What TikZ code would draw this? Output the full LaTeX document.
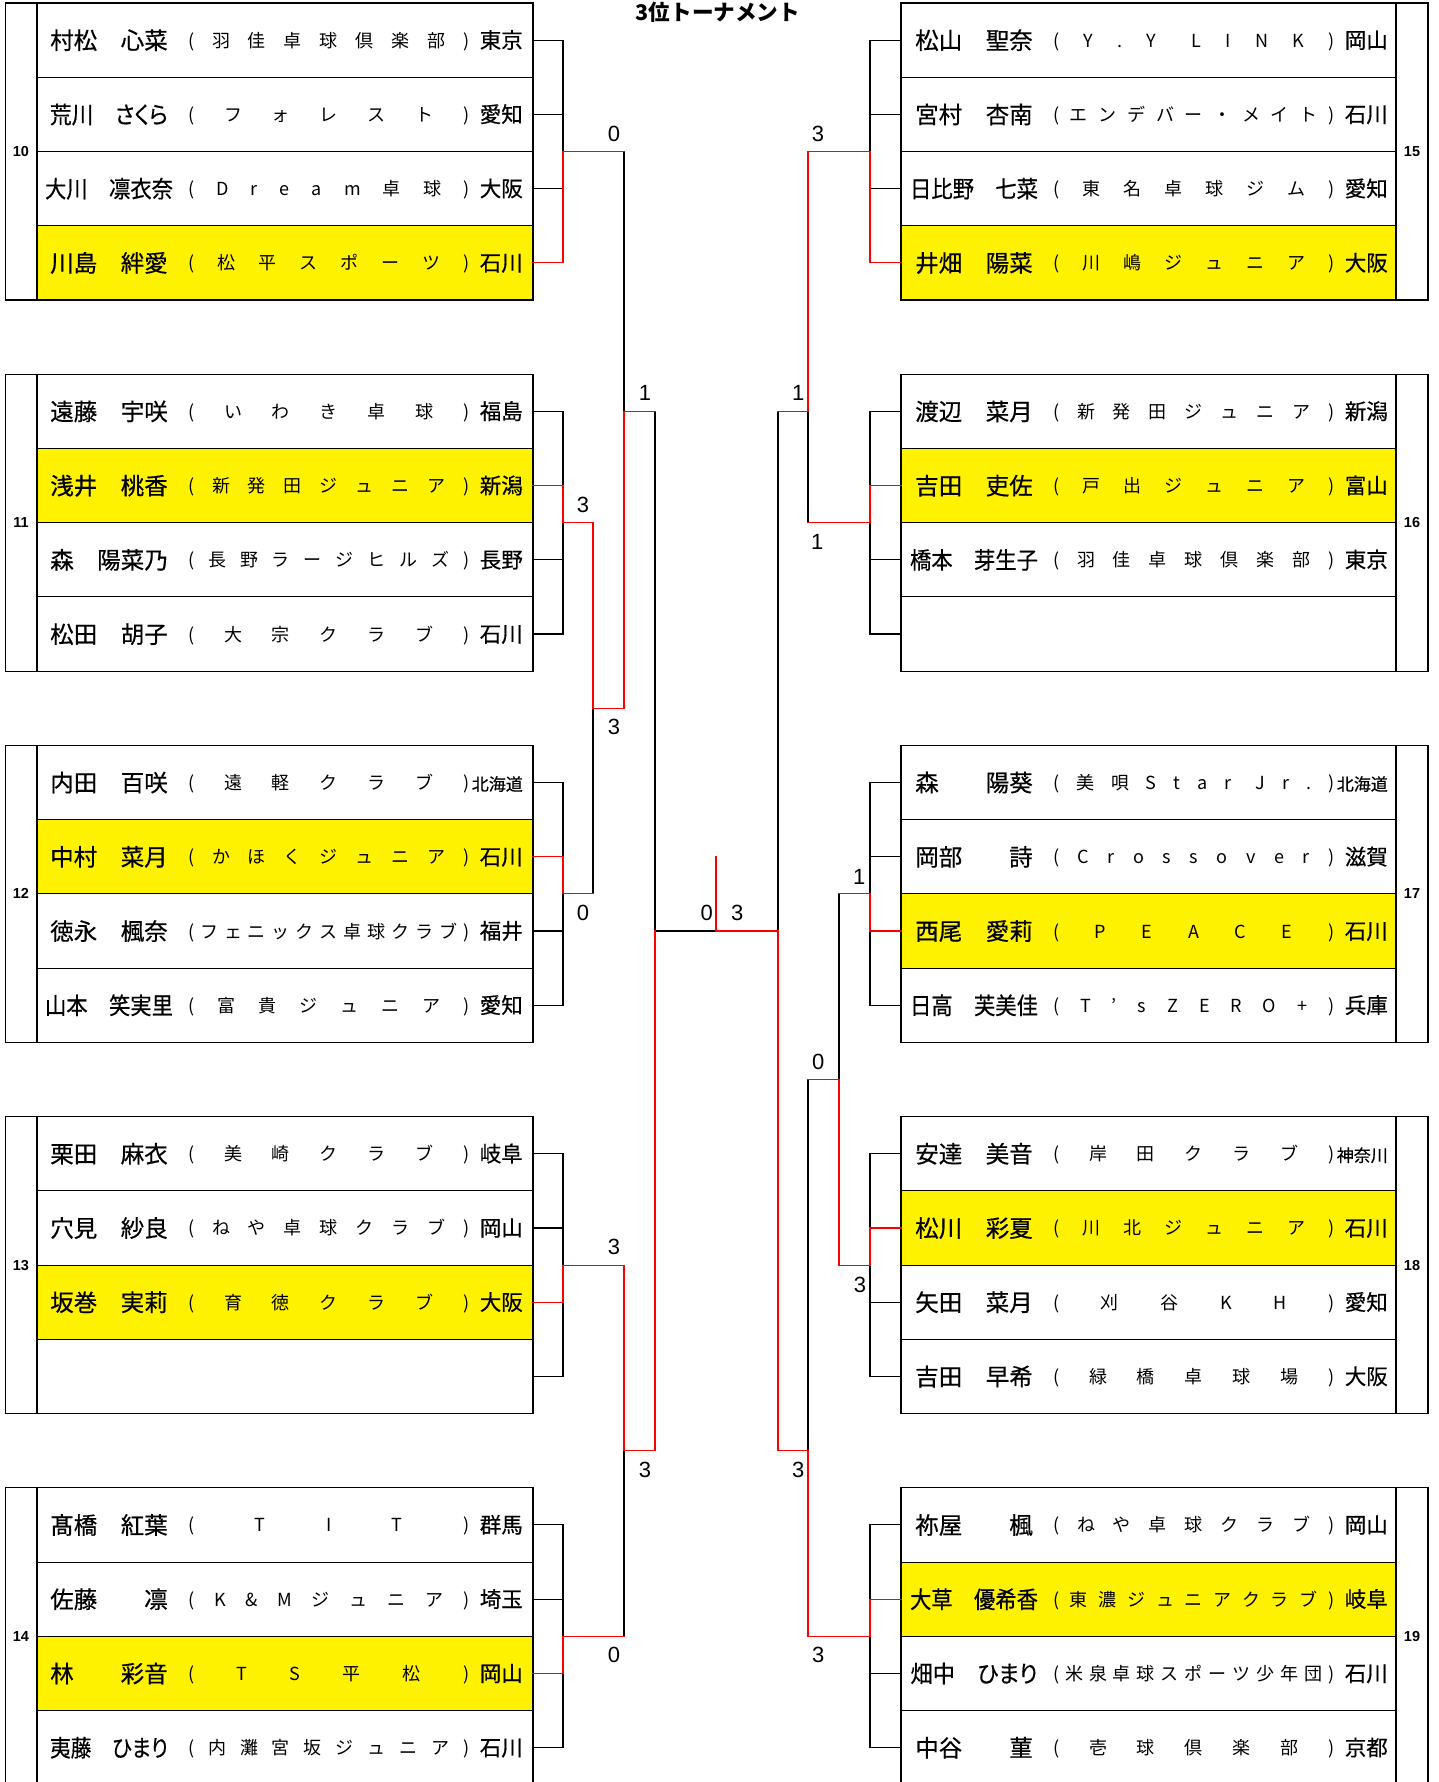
\documentclass[tikz,border=0pt]{standalone}
\usepackage{fontspec}
\usepackage{graphicx}
\setmainfont{Liberation Sans}
\newfontfamily\jp{Noto Sans CJK JP}
\newfontfamily\jpn[RawFeature={embolden=0.5}]{Noto Sans CJK JP}
\newfontfamily\jpk[RawFeature={+palt;embolden=0.5}]{Noto Sans CJK JP}
\newsavebox\nmbox
\newsavebox\pfbox
\newcommand\nm[2]{\sbox\nmbox{\jpk\fontsize{23.5}{23.5}\selectfont #2}\ifdim\wd\nmbox>#1pt\resizebox{#1pt}{\ht\nmbox}{\usebox\nmbox}\else\usebox\nmbox\fi}
\def\spreadit#1{\ifx\relax#1\else\hfill#1\expandafter\spreadit\fi}
\newcommand\club[1]{\hbox to 281pt{\jp\fontsize{18}{18}\selectfont(\spreadit#1\relax\hfill)}}
\newcommand\pf[1]{\sbox\pfbox{\jpn\fontsize{21.5}{22}\selectfont #1}\ifdim\wd\pfbox>46pt{\jpn\fontsize{17}{17}\selectfont #1}\else\usebox\pfbox\fi}
\tikzset{
  ln/.style={line width=1.1pt, black, line cap=rect},
  rd/.style={line width=1.1pt, red, line cap=rect, line join=miter},
  sc/.style={font=\fontsize{22}{22}\selectfont, inner sep=0pt},
  num/.style={font=\bfseries\fontsize{14.5}{15}\selectfont, inner sep=0pt},
}
\newcommand\prow[7]{%
  \node[anchor=base,inner sep=0pt] (#1n) at ({#2+109},{rc(#3)+9}) {\nm{#4}{#5}};
  \node[anchor=base west,inner sep=0pt] (#1c) at ({#2+188},{rc(#3)+7}) {\club{#6}};
  \node[anchor=base east,inner sep=0pt] (#1p) at ({#2+523},{rc(#3)+8}) {\pf{#7}};}
\newcommand\lblock[3]{%
  \fill[yellow] (37,{rb(#1+#2-1)}) rectangle (533,{rb(#1+#2)});
  \draw[ln] (5.5,{rb(#1)}) rectangle (533,{rb(#1+4)});
  \draw[ln] (37,{rb(#1)}) -- (37,{rb(#1+4)});
  \foreach \i in {1,2,3} {\draw[ln] (37,{rb(#1+\i)}) -- (533,{rb(#1+\i)});}
  \foreach \i in {0,1,2,3} {\draw[ln] (533,{rc(#1+\i)}) -- (563,{rc(#1+\i)});}
  \draw[ln] (563,{rc(#1)}) -- (563,{rc(#1+3)});
  \node[num] (nb#3) at (21,{rb(#1+2)}) {#3};}
\newcommand\rblock[3]{%
  \fill[yellow] (901,{rb(#1+#2-1)}) rectangle (1396,{rb(#1+#2)});
  \draw[ln] (901,{rb(#1)}) rectangle (1428,{rb(#1+4)});
  \draw[ln] (1396,{rb(#1)}) -- (1396,{rb(#1+4)});
  \foreach \i in {1,2,3} {\draw[ln] (901,{rb(#1+\i)}) -- (1396,{rb(#1+\i)});}
  \foreach \i in {0,1,2,3} {\draw[ln] (870,{rc(#1+\i)}) -- (901,{rc(#1+\i)});}
  \draw[ln] (870,{rc(#1)}) -- (870,{rc(#1+3)});
  \node[num] (nb#3) at (1412,{rb(#1+2)}) {#3};}
\begin{document}
\begin{tikzpicture}[x=1pt,y=-1pt,
  declare function={rc(\k)=3+(\k+0.5)*74.24; rb(\k)=3+\k*74.24;}]
\useasboundingbox (0,0) rectangle (1438,1782);
\clip (0,0) rectangle (1438,1782);
\fill[white] (0,0) rectangle (1438,1782);
% title
\node[inner sep=0pt] (title) at (718,12.5) {\jp\bfseries\fontsize{21.6}{22}\selectfont 3位トーナメント};
% blocks
\lblock{0}{4}{10}
\lblock{5}{2}{11}
\lblock{10}{2}{12}
\lblock{15}{3}{13}
\lblock{20}{3}{14}
\rblock{0}{4}{15}
\rblock{5}{2}{16}
\rblock{10}{3}{17}
\rblock{15}{2}{18}
\rblock{20}{2}{19}
% black bracket lines
\draw[ln] (593,{rb(7)}) -- (593,{rb(12)});
\draw[ln] (624,{rb(2)}) -- (624,{rc(9)});
\draw[ln] (624,{rb(17)}) -- (624,{rb(22)});
\draw[ln] (655,{rc(5)}) -- (655,{rc(19)});
\draw[ln] (655,{rc(12)}) -- (716,{rc(12)});
\draw[ln] (778,{rc(5)}) -- (778,{rc(19)});
\draw[ln] (808,{rb(2)}) -- (808,{rb(7)});
\draw[ln] (839,{rb(12)}) -- (839,{rb(17)});
\draw[ln] (808,{rc(14)}) -- (808,{rb(22)});
% red winner paths
\draw[rd] (533,{rc(3)}) -- (563,{rc(3)}) -- (563,{rb(2)}) -- (624,{rb(2)});
\draw[rd] (533,{rc(6)}) -- (563,{rc(6)}) -- (563,{rb(7)}) -- (593,{rb(7)}) -- (593,{rc(9)}) -- (624,{rc(9)}) -- (624,{rc(5)}) -- (655,{rc(5)});
\draw[rd] (533,{rc(11)}) -- (563,{rc(11)}) -- (563,{rb(12)}) -- (593,{rb(12)});
\draw[rd] (533,{rc(17)}) -- (563,{rc(17)}) -- (563,{rb(17)}) -- (624,{rb(17)}) -- (624,{rc(19)}) -- (655,{rc(19)}) -- (655,{rc(12)});
\draw[rd] (533,{rc(22)}) -- (563,{rc(22)}) -- (563,{rb(22)}) -- (624,{rb(22)});
\draw[rd] (716,{rc(11)}) -- (716,{rc(12)}) -- (778,{rc(12)});
\draw[rd] (901,{rc(3)}) -- (870,{rc(3)}) -- (870,{rb(2)}) -- (808,{rb(2)}) -- (808,{rc(5)}) -- (778,{rc(5)});
\draw[rd] (901,{rc(6)}) -- (870,{rc(6)}) -- (870,{rb(7)}) -- (808,{rb(7)});
\draw[rd] (901,{rc(12)}) -- (870,{rc(12)}) -- (870,{rb(12)}) -- (839,{rb(12)});
\draw[rd] (901,{rc(16)}) -- (870,{rc(16)}) -- (870,{rb(17)}) -- (839,{rb(17)}) -- (839,{rc(14)}) -- (808,{rc(14)});
\draw[rd] (901,{rc(21)}) -- (870,{rc(21)}) -- (870,{rb(22)}) -- (808,{rb(22)}) -- (808,{rc(19)}) -- (778,{rc(19)}) -- (778,{rc(12)});
% scores
\node[sc] (s1) at (614,{rb(2)-18}) {0};
\node[sc] (s2) at (583,{rb(7)-18}) {3};
\node[sc] (s3) at (583,{rb(12)+19}) {0};
\node[sc] (s4) at (614,{rc(9)+19}) {3};
\node[sc] (s5) at (645,{rc(5)-18}) {1};
\node[sc] (s6) at (614,{rb(17)-18}) {3};
\node[sc] (s7) at (614,{rb(22)+19}) {0};
\node[sc] (s8) at (645,{rc(19)+19}) {3};
\node[sc] (s9) at (706.7,{rc(12)-18}) {0};
\node[sc] (s10) at (737.3,{rc(12)-18}) {3};
\node[sc] (s11) at (818,{rb(2)-18}) {3};
\node[sc] (s12) at (817.3,{rb(7)+19}) {1};
\node[sc] (s13) at (798.3,{rc(5)-18}) {1};
\node[sc] (s14) at (859.3,{rb(12)-17}) {1};
\node[sc] (s15) at (860,{rb(17)+20}) {3};
\node[sc] (s16) at (818.3,{rc(14)-18}) {0};
\node[sc] (s17) at (798.3,{rc(19)+19}) {3};
\node[sc] (s18) at (818.3,{rb(22)+19}) {3};
% players left
\prow{a1}{0}{0}{128}{村松　心菜}{羽佳卓球倶楽部}{東京}
\prow{a2}{0}{1}{118}{荒川　さくら}{フォレスト}{愛知}
\prow{a3}{0}{2}{128}{大川　凛衣奈}{Dream卓球}{大阪}
\prow{a4}{0}{3}{128}{川島　絆愛}{松平スポーツ}{石川}
\prow{b1}{0}{5}{128}{遠藤　宇咲}{いわき卓球}{福島}
\prow{b2}{0}{6}{128}{浅井　桃香}{新発田ジュニア}{新潟}
\prow{b3}{0}{7}{128}{森　陽菜乃}{長野ラージヒルズ}{長野}
\prow{b4}{0}{8}{128}{松田　胡子}{大宗クラブ}{石川}
\prow{c1}{0}{10}{128}{内田　百咲}{遠軽クラブ}{北海道}
\prow{c2}{0}{11}{128}{中村　菜月}{かほくジュニア}{石川}
\prow{c3}{0}{12}{128}{徳永　楓奈}{フェニックス卓球クラブ}{福井}
\prow{c4}{0}{13}{128}{山本　笑実里}{富貴ジュニア}{愛知}
\prow{d1}{0}{15}{128}{栗田　麻衣}{美崎クラブ}{岐阜}
\prow{d2}{0}{16}{128}{穴見　紗良}{ねや卓球クラブ}{岡山}
\prow{d3}{0}{17}{128}{坂巻　実莉}{育徳クラブ}{大阪}
\prow{e1}{0}{20}{128}{髙橋　紅葉}{TIT}{群馬}
\prow{e2}{0}{21}{128}{佐藤　　凛}{K\&Mジュニア}{埼玉}
\prow{e3}{0}{22}{128}{林　　彩音}{TS平松}{岡山}
\prow{e4}{0}{23}{118}{夷藤　ひまり}{内灘宮坂ジュニア}{石川}
% players right
\prow{f1}{865}{0}{128}{松山　聖奈}{Y.{Y\kern12pt}LINK}{岡山}
\prow{f2}{865}{1}{128}{宮村　杏南}{エンデバー・メイト}{石川}
\prow{f3}{865}{2}{128}{日比野　七菜}{東名卓球ジム}{愛知}
\prow{f4}{865}{3}{128}{井畑　陽菜}{川嶋ジュニア}{大阪}
\prow{g1}{865}{5}{128}{渡辺　菜月}{新発田ジュニア}{新潟}
\prow{g2}{865}{6}{128}{吉田　吏佐}{戸出ジュニア}{富山}
\prow{g3}{865}{7}{128}{橋本　芽生子}{羽佳卓球倶楽部}{東京}
\prow{h1}{865}{10}{128}{森　　陽葵}{美唄Sta{r\kern8pt}Jr.}{北海道}
\prow{h2}{865}{11}{128}{岡部　　詩}{Crossover}{滋賀}
\prow{h3}{865}{12}{128}{西尾　愛莉}{PEACE}{石川}
\prow{h4}{865}{13}{128}{日高　芙美佳}{T’sZERO+}{兵庫}
\prow{i1}{865}{15}{128}{安達　美音}{岸田クラブ}{神奈川}
\prow{i2}{865}{16}{128}{松川　彩夏}{川北ジュニア}{石川}
\prow{i3}{865}{17}{128}{矢田　菜月}{刈谷KH}{愛知}
\prow{i4}{865}{18}{128}{吉田　早希}{緑橋卓球場}{大阪}
\prow{j1}{865}{20}{128}{祢屋　　楓}{ねや卓球クラブ}{岡山}
\prow{j2}{865}{21}{128}{大草　優希香}{東濃ジュニアクラブ}{岐阜}
\prow{j3}{865}{22}{127}{畑中　ひまり}{米泉卓球スポーツ少年団}{石川}
\prow{j4}{865}{23}{128}{中谷　　菫}{壱球倶楽部}{京都}
\end{tikzpicture}
\end{document}
